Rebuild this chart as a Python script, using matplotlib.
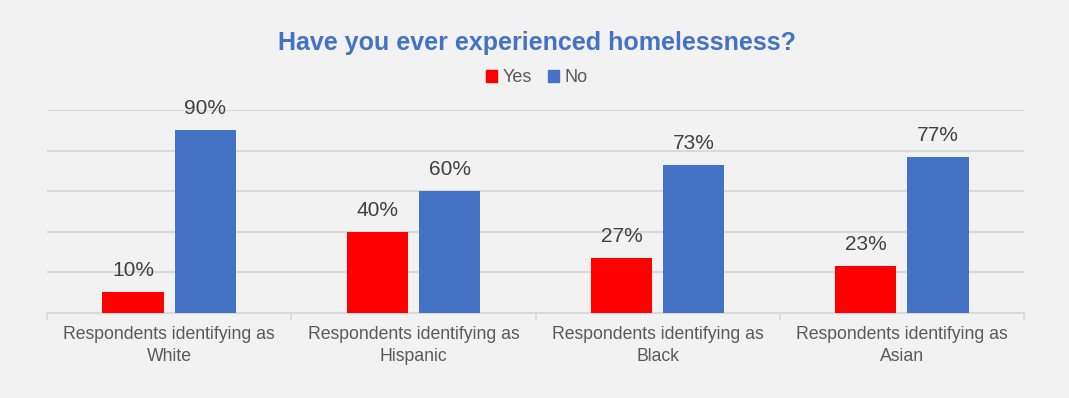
import numpy as np
import matplotlib
matplotlib.use("Agg")
import matplotlib.pyplot as plt
from matplotlib.patches import Patch

# ── data ──────────────────────────────────────────────────────────────
categories = [
    "Respondents identifying as\nWhite",
    "Respondents identifying as\nHispanic",
    "Respondents identifying as\nBlack",
    "Respondents identifying as\nAsian",
]
yes_vals = [10, 40, 27, 23]
no_vals  = [90, 60, 73, 77]
series_names = ["Yes", "No"]

BG     = "#F2F2F2"
RED    = "#FF0000"
BLUE   = "#4472C4"
GRID   = "#D9D9D9"

plt.rcParams["font.family"] = ["Liberation Sans", "DejaVu Sans"]

fig = plt.figure(figsize=(10.69, 3.98), dpi=100, facecolor=BG)
ax = fig.add_axes([47 / 1069, 1 - 312.5 / 398, 977 / 1069, 202.5 / 398])
ax.set_facecolor(BG)

x = np.arange(len(categories))
w = 0.25
off = 0.148
b_yes = ax.bar(x - off, yes_vals, width=w, color=RED, zorder=3)
b_no  = ax.bar(x + off, no_vals,  width=w, color=BLUE, zorder=3)

for bars, vals in ((b_yes, yes_vals), (b_no, no_vals)):
    for rect, v in zip(bars, vals):
        ax.annotate(f"{v}%", (rect.get_x() + rect.get_width() / 2, v),
                    xytext=(0, 8.5), textcoords="offset points",
                    ha="center", va="bottom", fontsize=15, color="#404040")

ax.set_xlim(-0.5, len(categories) - 0.5)
ax.set_ylim(0, 100)
ax.set_yticks([0, 20, 40, 60, 80, 100])
ax.yaxis.grid(True, color=GRID, linewidth=1.5, zorder=0)
ax.tick_params(axis="y", left=False, labelleft=False)

ax.set_xticks(x)
ax.set_xticklabels(categories, fontsize=12.7, color="#595959", linespacing=1.4)
ax.tick_params(axis="x", which="major", length=0, pad=9.5)
ax.set_xticks(np.arange(-0.5, len(categories)), minor=True)
ax.tick_params(axis="x", which="minor", length=5, color=GRID, width=1.2)

for s in ("top", "left", "right"):
    ax.spines[s].set_visible(False)
ax.spines["bottom"].set_color(GRID)
ax.spines["bottom"].set_linewidth(1.5)

fig.text(537 / 1069, 1 - 43 / 398, "Have you ever experienced homelessness?",
         ha="center", va="center", fontsize=18, fontweight="bold", color=BLUE)

handles = [Patch(color=RED), Patch(color=BLUE)]
fig.legend(handles, series_names, loc="center", bbox_to_anchor=(537 / 1069, 1 - 78 / 398),
           ncol=2, frameon=False, fontsize=13, labelcolor="#595959",
           handlelength=0.6, handleheight=0.6, handletextpad=0.3, columnspacing=0.9)

fig.savefig("out.png", dpi=100, facecolor=BG)
